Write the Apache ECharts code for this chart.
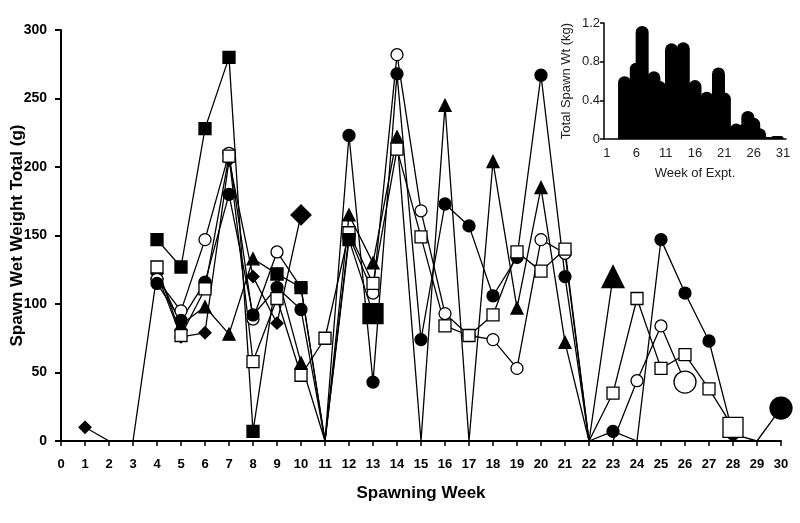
<!DOCTYPE html>
<html>
<head>
<meta charset="utf-8">
<script src="https://cdn.jsdelivr.net/npm/echarts@6/dist/echarts.min.js"></script>
<style>
  html, body { margin: 0; padding: 0; background: #fff; }
  #chart { width: 800px; height: 523px; }
</style>
</head>
<body>
<div id="chart"></div>
<script>
// spawning week index 0..30, null = no data for that week
const weeks = [0, 1, 2, 3, 4, 5, 6, 7, 8, 9, 10, 11, 12, 13, 14, 15, 16, 17, 18, 19, 20, 21, 22, 23, 24, 25, 26, 27, 28, 29, 30];
const diamondVals = [null, 10, 0, 0, 122, 76, 79, 205, 120, 86, 165];
const triangleVals = [null, null, null, null, 123, 85, 98, 78, 133, 122, 57, 0, 165, 130, 222, 0, 245, 0, 204, 97, 185, 72, 0, 120];
const openCircleVals = [null, null, null, null, 118, 95, 147, 210, 89, 138, 112, 0, 150, 108, 282, 168, 93, 77, 74, 53, 147, 137, 0, 0, 44, 84, 43];
const filledCircleVals = [null, null, null, null, 115, 88, 116, 180, 92, 112, 96, 0, 223, 43, 268, 74, 173, 157, 106, 134, 267, 120, 0, 7, 0, 147, 108, 73, 5, 0, 24];
const openSquareVals = [null, null, null, null, 127, 77, 111, 208, 58, 104, 48, 75, 152, 115, 213, 149, 84, 77, 92, 138, 124, 140, 0, 35, 104, 53, 63, 38, 10];
const filledSquareVals = [null, null, null, null, 147, 127, 228, 280, 7, 122, 112, 0, 147, 93];

// inset: total spawn per week of experiment (kg)
const insetWeeks = ["1", "2", "3", "4", "5", "6", "7", "8", "9", "10", "11", "12", "13", "14", "15", "16", "17", "18", "19", "20", "21", "22", "23", "24", "25", "26", "27", "28", "29", "30", "31"];
const insetTotals = [0, 0, 0, 0.65, 0.55, 0.79, 1.17, 0.52, 0.70, 0.60, 0.08, 0.99, 0.55, 1.0, 0.39, 0.61, 0.23, 0.49, 0.32, 0.74, 0.48, 0, 0.16, 0.15, 0.29, 0.22, 0.11, 0.02, 0, 0.03, 0];

const font = "Liberation Sans, Arial, sans-serif";

// one line series; the last point gets a big marker, zero points get none
const makeSeries = (name, vals, symbol, filled, bigSize) => {
    const data = [];
    vals.forEach((v, i) => {
        if (v !== null) data.push([weeks[i], v]);
    });
    const last = data.length - 1;
    return {
        name: name,
        type: "line",
        data: data,
        symbol: symbol,
        showAllSymbol: true,
        symbolSize: (val, p) => (p.dataIndex === last ? bigSize : (val[1] === 0 ? 0 : 12)),
        lineStyle: { color: "#000", width: 1.3 },
        itemStyle: { color: filled ? "#000" : "#fff", borderColor: "#000", borderWidth: 1.3 },
        emphasis: { disabled: true },
        animation: false
    };
};

const chart = echarts.init(document.getElementById("chart"));
chart.setOption({
    animation: false,
    textStyle: { fontFamily: font },
    grid: [
        { left: 61, right: 19, top: 30, bottom: 82, outerBoundsMode: "none" },
        { left: 604, right: 14, top: 23, bottom: 384, outerBoundsMode: "none" }
    ],
    xAxis: [
        {
            type: "value",
            gridIndex: 0,
            min: 0,
            max: 30,
            interval: 1,
            splitLine: { show: false },
            axisLine: { lineStyle: { color: "#000", width: 2 } },
            axisTick: { length: 5, lineStyle: { color: "#000", width: 1.5 } },
            axisLabel: { color: "#000", fontWeight: "bold", fontSize: 13, margin: 17 },
            name: "Spawning Week",
            nameLocation: "middle",
            nameGap: 44,
            nameMoveOverlap: false,
            nameTextStyle: { color: "#000", fontWeight: "bold", fontSize: 17 }
        },
        {
            type: "category",
            gridIndex: 1,
            data: insetWeeks,
            axisLine: { lineStyle: { color: "#000", width: 1.5 } },
            axisTick: { length: 3, interval: 0, lineStyle: { color: "#000", width: 1 } },
            axisLabel: { color: "#222", fontSize: 13, margin: 8, interval: 4 },
            name: "Week of Expt.",
            nameLocation: "middle",
            nameGap: 28,
            nameMoveOverlap: false,
            nameTextStyle: { color: "#222", fontSize: 13 }
        }
    ],
    yAxis: [
        {
            type: "value",
            gridIndex: 0,
            min: 0,
            max: 300,
            interval: 50,
            splitLine: { show: false },
            axisLine: { show: true, lineStyle: { color: "#000", width: 2 } },
            axisTick: { show: true, length: 6, lineStyle: { color: "#000", width: 2 } },
            axisLabel: { color: "#000", fontWeight: "bold", fontSize: 14, margin: 14 },
            name: "Spawn Wet Weight Total (g)",
            nameLocation: "middle",
            nameGap: 35,
            nameMoveOverlap: false,
            nameTextStyle: { color: "#000", fontWeight: "bold", fontSize: 17 }
        },
        {
            type: "value",
            gridIndex: 1,
            min: 0,
            max: 1.2,
            interval: 0.4,
            splitLine: { show: false },
            axisLine: { show: true, lineStyle: { color: "#000", width: 1.5 } },
            axisTick: { show: true, length: 4, lineStyle: { color: "#000", width: 1.5 } },
            axisLabel: { color: "#222", fontSize: 13, margin: 4 },
            name: "Total Spawn Wt (kg)",
            nameLocation: "middle",
            nameGap: 31,
            nameMoveOverlap: false,
            nameTextStyle: { color: "#222", fontSize: 13 }
        }
    ],
    series: [
        makeSeries("diamond", diamondVals, "diamond", true, 20),
        makeSeries("triangle", triangleVals, "triangle", true, 22),
        makeSeries("open circle", openCircleVals, "circle", false, 22),
        makeSeries("filled circle", filledCircleVals, "circle", true, 22),
        makeSeries("open square", openSquareVals, "rect", false, 20),
        makeSeries("filled square", filledSquareVals, "rect", true, 20),
        {
            name: "total",
            type: "bar",
            xAxisIndex: 1,
            yAxisIndex: 1,
            data: insetTotals,
            barWidth: 13,
            itemStyle: { color: "#000", borderRadius: [6.5, 6.5, 0, 0] },
            emphasis: { disabled: true },
            animation: false
        }
    ]
});
</script>
</body>
</html>
